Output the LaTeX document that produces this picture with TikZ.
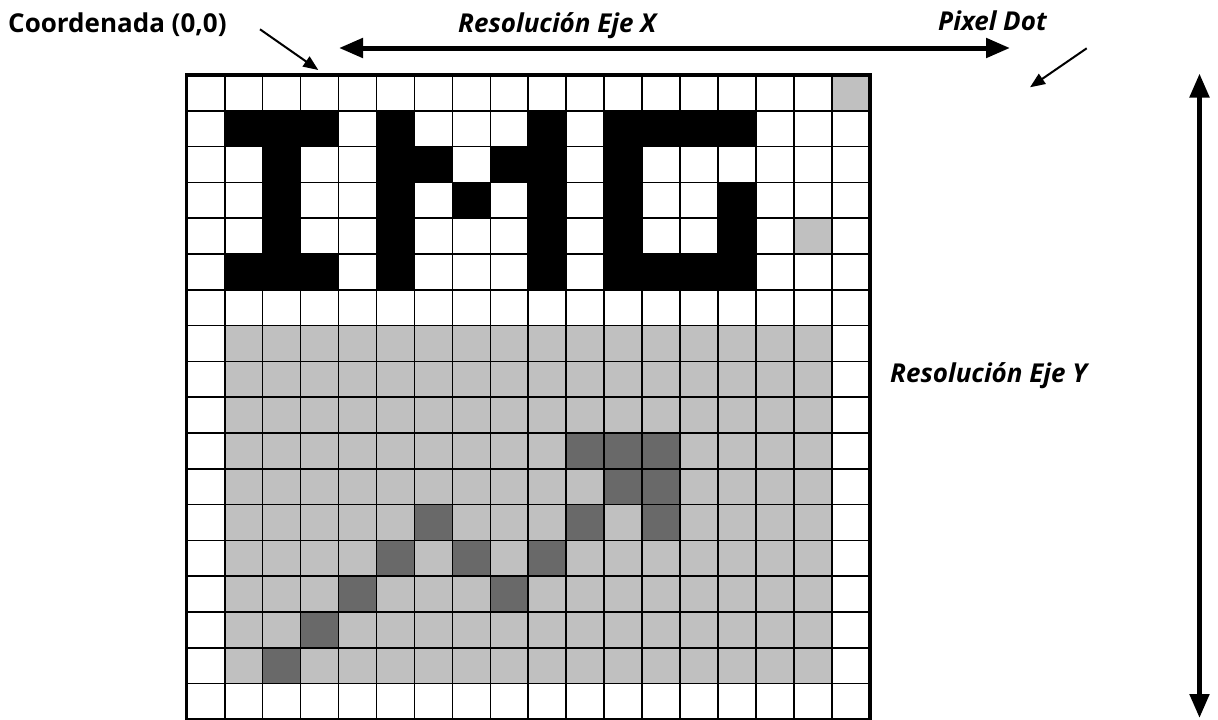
\documentclass[tikz,border=0pt]{standalone}
\usepackage{fontspec}
\setmainfont{Open Sans}
\usetikzlibrary{arrows.meta}
\definecolor{lightpx}{RGB}{192,192,192}
\definecolor{darkpx}{RGB}{105,105,105}
\begin{document}
\begin{tikzpicture}[x=1pt,y=-1pt,
  lbl/.style={font=\fontsize{26}{30}\selectfont\bfseries, inner sep=0pt, anchor=base west},
  lbli/.style={lbl, font=\fontsize{26}{30}\selectfont\bfseries\itshape},
  bigarrow/.style={line width=5pt, {Triangle[length=24pt,width=19pt]}-{Triangle[length=24pt,width=19pt]}},
  thinarrow/.style={line width=2pt, -{Triangle[length=15pt,width=12pt]}},
  gridline/.style={line width=1.7pt},
  frameline/.style={line width=3.2pt}]
\useasboundingbox (0,0) rectangle (1218,720);
\fill[white] (0,0) rectangle (1218,720);

\begin{scope}[xshift=186.7pt, yshift=-75pt, x=37.96pt, y=-35.8pt]
  % light gray area
  \fill[lightpx] (1,7) rectangle (17,17);
  \foreach \c/\r in {17/0,16/4} \fill[lightpx] (\c,\r) rectangle ++(1,1);
  % IMG letters
  \foreach \c/\r in {1/1,2/1,3/1,5/1,9/1,11/1,12/1,13/1,14/1,
                     2/2,5/2,6/2,8/2,9/2,11/2,
                     2/3,5/3,7/3,9/3,11/3,14/3,
                     2/4,5/4,9/4,11/4,14/4,
                     1/5,2/5,3/5,5/5,9/5,11/5,12/5,13/5,14/5}
    \fill[black] (\c,\r) rectangle ++(1,1);
  % dark pixels
  \foreach \c/\r in {10/10,11/10,12/10,11/11,12/11,6/12,10/12,12/12,
                     5/13,7/13,9/13,4/14,8/14,3/15,2/16}
    \fill[darkpx] (\c,\r) rectangle ++(1,1);
  % grid
  \foreach \i in {1,...,17} {
    \draw[gridline] (\i,0) -- (\i,18);
    \draw[gridline] (0,\i) -- (18,\i);
  }
  \draw[frameline] (0,0) rectangle (18,18);
\end{scope}

% labels
\node[lbl]  (coord) at (8,32) {Coordenada (0,0)};
\node[lbli] (resx)  at (458,32) {Resolución Eje X};
\node[lbli] (pix)   at (938,30.5) {Pixel Dot};
\node[lbli] (resy)  at (890,382.5) {Resolución Eje Y};

% arrow end points
\coordinate (c0) at (260,29.3);
\coordinate (c1) at (318.3,70);
\coordinate (xl) at (339,48);
\coordinate (xr) at (1010,48);
\coordinate (p0) at (1086.7,48.3);
\coordinate (p1) at (1030,87.3);
\coordinate (yt) at (1199.5,73.5);
\coordinate (yb) at (1199.5,718);

\draw[thinarrow] (c0) -- (c1);
\draw[bigarrow] (xl) -- (xr);
\draw[thinarrow] (p0) -- (p1);
\draw[bigarrow] (yt) -- (yb);
\end{tikzpicture}
\end{document}
